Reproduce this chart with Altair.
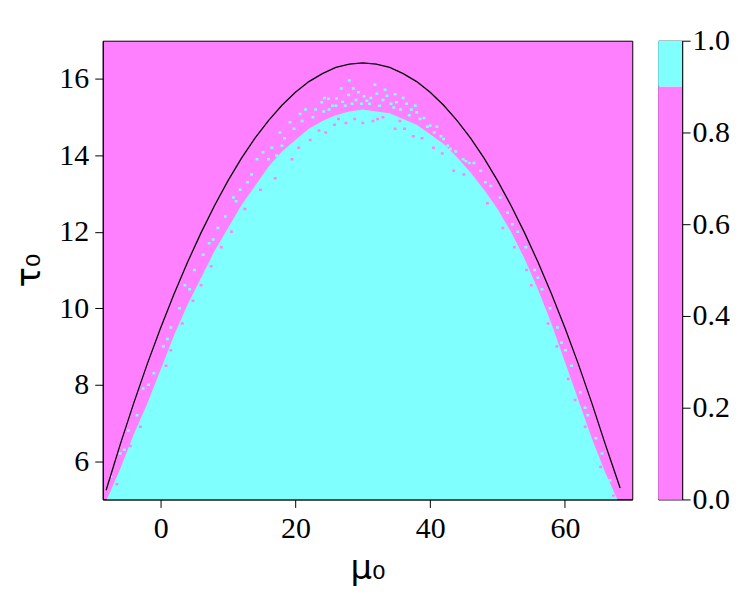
import altair as alt
import pandas as pd

# ---- data ----
# boundary of the solid cyan region (tau where it ends, per mu)
edge_mu = [-8.0, -7.0, -6.0, -4.0, -2.0, 0.0, 2.0, 4.0, 6.0, 8.0, 10.0, 12.0, 14.0, 16.0,
           18.0, 20.0, 22.0, 24.0, 26.0, 28.0, 30.0, 32.0, 34.0, 36.0, 38.0, 40.0, 42.0,
           44.0, 46.0, 48.0, 50.0, 52.0, 54.0, 56.0, 58.0, 60.0, 62.0, 64.0, 66.0, 67.8]
edge_tau = [5.0, 5.4, 5.8, 6.7, 7.5, 8.4, 9.3, 10.1, 10.8, 11.5, 12.1, 12.7, 13.2, 13.7,
            14.1, 14.4, 14.7, 14.9, 15.05, 15.15, 15.2, 15.15, 15.1, 14.95, 14.8, 14.55, 14.3,
            13.95, 13.55, 13.1, 12.6, 12.0, 11.3, 10.5, 9.6, 8.6, 7.6, 6.6, 5.7, 5.0]

# black curve
curve_mu = [-8.1, -6, -4, -2, 0, 2, 4, 6, 8, 10, 12, 14, 16, 18, 20, 22, 24, 26, 28, 30,
            32, 34, 36, 38, 40, 42, 44, 46, 48, 50, 52, 54, 56, 58, 60, 62, 64, 66, 68.2]
curve_tau = [5.24, 6.44, 7.52, 8.54, 9.49, 10.38, 11.21, 11.98, 12.69, 13.34, 13.93, 14.45,
             14.91, 15.31, 15.65, 15.93, 16.14, 16.30, 16.39, 16.42, 16.39, 16.30, 16.14,
             15.93, 15.65, 15.31, 14.91, 14.45, 13.93, 13.34, 12.69, 11.98, 11.21, 10.38,
             9.49, 8.54, 7.52, 6.44, 5.30]

# scattered cyan cells outside the solid region
cyan_mu = [15.2, 14.3, 17.7, 19.2, 20.7, 23.9, 24.9, 26.1, 27.9, 28.0, 29.35, 30.6, 32.1,
           33.3, 33.6, 35.0, 36.5, 38.0, 40.0, 42.0, 43.0, 44.9, 46.5, 16.5, 18.4, 21.5,
           25.5, 27.0, 29.0, 31.2, 34.2, 37.2, 39.1, 41.0, 26.8, 31.8, 23.0,
           19.8, 21.0, 22.6, 24.2, 25.0, 26.0, 27.4, 28.4, 29.8, 30.2, 31.0, 32.5, 33.0,
           34.6, 35.6, 36.0, 36.9, 38.5, 39.6, 40.6, 41.6, 42.6, 43.8, 45.3, 17.2, 18.0,
           16.0, 13.5, 28.6, 34.8, 24.3, 37.8,
           -7.4, -6.0, -4.8, -3.5, -2.6, -1.0, 0.4, 1.5, 2.8, 3.6, 5.0, 6.3, 7.2, 8.5, 9.6,
           10.8, 11.8, 12.9, -5.4, -1.8, 1.0, 4.3, 7.8, 11.2,
           47.5, 49.0, 50.4, 51.5, 53.0, 54.2, 55.5, 56.6, 57.8, 58.9, 60.1, 61.0, 62.3,
           63.4, 64.6, 65.5, 66.7, 48.2, 52.2, 56.0, 59.5, 63.0, 45.8]
cyan_tau = [14.08, 13.9, 14.6, 14.87, 15.08, 15.39, 15.48, 15.49, 15.58, 15.96, 15.65, 15.43,
            15.61, 15.72, 15.56, 15.39, 15.35, 15.13, 14.78, 14.43, 14.17, 13.9, 13.8, 14.2,
            14.45, 15.2, 15.3, 15.4, 15.45, 15.5, 15.35, 15.2, 14.98, 14.75, 15.75, 15.85,
            15.2,
            14.7, 14.9, 15.0, 15.15, 15.2, 15.3, 15.3, 15.35, 15.35, 15.55, 15.35, 15.3, 15.45,
            15.25, 15.2, 15.5, 15.05, 14.95, 14.75, 14.6, 14.5, 14.25, 14.1, 13.85, 14.0, 14.25,
            13.9, 13.5, 15.75, 15.6, 15.5, 15.3,
            5.6, 6.2, 6.8, 7.2, 7.9, 8.3, 9.0, 9.5, 10.0, 10.6, 11.0, 11.4, 11.7, 12.1, 12.4,
            12.9, 13.1, 13.3, 6.3, 8.0, 9.2, 10.5, 11.8, 12.8,
            13.6, 13.2, 12.9, 12.5, 12.0, 11.6, 11.0, 10.5, 10.0, 9.5, 8.9, 8.5, 7.8, 7.2,
            6.6, 6.2, 5.5, 13.3, 12.2, 10.8, 9.1, 7.4, 13.8]

# scattered magenta cells inside the solid region
mag_mu = [22.2, 24.5, 27.5, 31.5, 34.8, 37.5, 19.5, 40.5, 17.0, 43.5, 28.8, 33.0,
          20.5, 23.5, 25.8, 30.0, 32.2, 36.2, 38.8, 41.8, 26.4, 35.5,
          -6.5, -3.0, 0.8, 3.2, 6.0, 9.0, 12.5, 14.8, -4.5, 1.5, 4.8, 7.5, 10.5,
          48.5, 52.5, 55.0, 57.5, 60.5, 63.0, 65.3, 67.2, 50.8, 54.3, 58.8, 61.5, 45.0]
mag_tau = [14.4, 14.6, 14.85, 14.9, 14.7, 14.5, 13.9, 14.2, 13.4, 13.6, 14.95, 15.0,
           14.2, 14.65, 14.8, 14.85, 14.95, 14.7, 14.45, 14.05, 14.95, 14.9,
           5.4, 6.9, 8.5, 9.6, 10.6, 11.6, 12.6, 13.1, 6.4, 8.9, 10.2, 11.1, 12.0,
           12.75, 11.6, 10.6, 9.6, 8.15, 6.9, 5.85, 5.1, 12.1, 11.0, 9.0, 7.6, 13.5]

# colour bar
cbar_lo = [0.0, 0.9]
cbar_hi = [0.9, 1.0]
cbar_col = ["#ff80ff", "#80ffff"]

x_ticks = [0, 20, 40, 60]
y_ticks = [6, 8, 10, 12, 14, 16]
cbar_ticks = [0.0, 0.2, 0.4, 0.6, 0.8, 1.0]

MAG = "#ff80ff"
CYAN = "#80ffff"
FONT = "Liberation Serif"
TFONT = "DejaVu Sans"
CELL_W = 0.42
CELL_H = 0.065

edge_df = pd.DataFrame({"mu": edge_mu, "tau": edge_tau})
edge_df["base"] = 5.0
curve_df = pd.DataFrame({"mu": curve_mu, "tau": curve_tau})
cyan_df = pd.DataFrame({"mu": cyan_mu, "tau": cyan_tau})
mag_df = pd.DataFrame({"mu": mag_mu, "tau": mag_tau})
for d in (cyan_df, mag_df):
    d["x1"] = d["mu"] - CELL_W / 2
    d["x2"] = d["mu"] + CELL_W / 2
    d["y1"] = d["tau"] - CELL_H / 2
    d["y2"] = d["tau"] + CELL_H / 2
cbar_df = pd.DataFrame({"lo": cbar_lo, "hi": cbar_hi, "col": cbar_col, "k": ["c", "c"]})

xs = alt.Scale(domain=[-8.6, 70], nice=False, zero=False)
ys = alt.Scale(domain=[5, 17], nice=False, zero=False)

x_axis = alt.Axis(values=x_ticks, title="μ₀", grid=False, tickSize=8, labelPadding=6,
                  titlePadding=8, titleFont=TFONT, titleFontSize=34, titleFontWeight="normal")
y_axis = alt.Axis(values=y_ticks, title="τ₀", grid=False, tickSize=8, labelPadding=6,
                  titlePadding=12, titleFont=TFONT, titleFontSize=34, titleFontWeight="normal")

area = alt.Chart(edge_df).mark_area(color=CYAN, clip=True, interpolate="linear").encode(
    x=alt.X("mu:Q", scale=xs, axis=x_axis),
    y=alt.Y("tau:Q", scale=ys, axis=y_axis),
    y2="base:Q",
)
cyan_cells = alt.Chart(cyan_df).mark_rect(color=CYAN, clip=True).encode(
    x=alt.X("x1:Q", scale=xs), x2="x2:Q",
    y=alt.Y("y1:Q", scale=ys), y2="y2:Q",
)
mag_cells = alt.Chart(mag_df).mark_rect(color=MAG, clip=True).encode(
    x=alt.X("x1:Q", scale=xs), x2="x2:Q",
    y=alt.Y("y1:Q", scale=ys), y2="y2:Q",
)
curve = alt.Chart(curve_df).mark_line(color="black", strokeWidth=1.3, clip=True).encode(
    x=alt.X("mu:Q", scale=xs),
    y=alt.Y("tau:Q", scale=ys),
)

main = alt.layer(area, cyan_cells, mag_cells, curve).properties(
    width=531, height=460, view=alt.ViewBackground(fill=MAG, stroke="black", strokeWidth=1)
)

cbar = alt.Chart(cbar_df).mark_rect().encode(
    x=alt.X("k:N", axis=None, scale=alt.Scale(paddingInner=0, paddingOuter=0)),
    y=alt.Y("lo:Q", scale=alt.Scale(domain=[0, 1], nice=False),
            axis=alt.Axis(orient="right", values=cbar_ticks, format=".1f", title=None,
                          grid=False, tickSize=8, labelPadding=2)),
    y2="hi:Q",
    color=alt.Color("col:N", scale=None, legend=None),
).properties(width=24, height=460, view=alt.ViewBackground(stroke="black", strokeWidth=1))

chart = alt.hconcat(main, cbar, spacing=24).properties(
    padding={"left": 4, "top": 16, "right": 0, "bottom": 0}
).configure_axis(
    labelFont=FONT, labelFontSize=30, labelColor="black", domainColor="black",
    tickColor="black", titleColor="black", domainWidth=1, tickWidth=1,
).configure_view(stroke="black")

chart.save("out.html", embed_options={"renderer": "svg", "actions": False})
